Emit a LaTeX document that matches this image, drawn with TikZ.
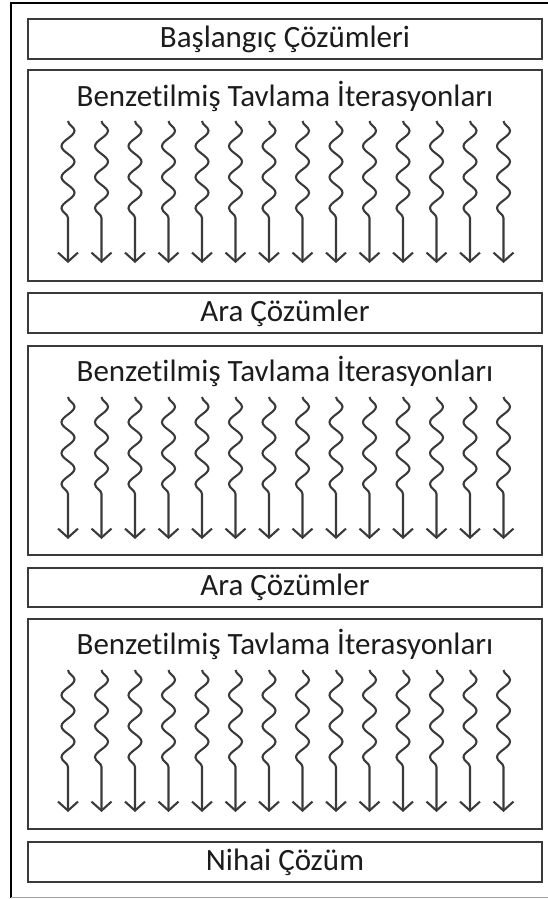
\documentclass[tikz,border=0pt]{standalone}
\usepackage{fontspec}
\setmainfont{Carlito}[Ligatures = NoCommon]
\usetikzlibrary{positioning, arrows.meta, decorations.pathmorphing}

\definecolor{edgegray}{HTML}{3A3A3A}
\definecolor{framegray}{HTML}{A0A0A0}
\definecolor{textdark}{HTML}{1C1C1C}

\begin{document}
\begin{tikzpicture}[
    x = 1pt, y = -1pt,
    box/.style = {
      rectangle, draw = edgegray, line width = 2pt,
      minimum width = 514pt, inner sep = 0pt,
      font = \fontsize{31}{35}\selectfont, text = textdark
    },
    title/.style = {
      inner sep = 0pt,
      font = \fontsize{31}{35}\selectfont, text = textdark
    },
    wave/.style = {
      draw = edgegray, line width = 2.1pt,
      decorate, decoration = {snake, amplitude = 6.5pt,
        segment length = 31pt, post length = 32pt},
      -{Straight Barb[length=9pt, width=20pt, line width=2.1pt]}
    }
  ]

  \useasboundingbox (0,0) rectangle (547,899);

  % ---- Dis cerceve ----
  \draw[line width = 1.5pt] (560,3) -- (11,3) -- (11,897.5);
  \draw[framegray, line width = 1.2pt] (11,897.5) -- (560,897.5);

  % ---- Cozum kutulari ----
  \node[box, minimum height = 40pt] (init) at (285,39)    {Başlangıç Çözümleri};
  \node[box, minimum height = 40pt] (mid1) at (285,313)   {Ara Çözümler};
  \node[box, minimum height = 39pt] (mid2) at (285,587.5) {Ara Çözümler};
  \node[box, minimum height = 40pt] (fin)  at (285,862)   {Nihai Çözüm};

  % ---- Tavlama kutulari ----
  \node[box, minimum height = 211pt] (sa1) at (285,175.5) {};
  \node[box, minimum height = 209pt] (sa2) at (285,450.5) {};
  \node[box, minimum height = 210pt] (sa3) at (285,724)   {};

  \node[title] (sa1t) at (285,96)  {Benzetilmiş Tavlama İterasyonları};
  \node[title] (sa2t) at (285,371) {Benzetilmiş Tavlama İterasyonları};
  \node[title] (sa3t) at (285,644) {Benzetilmiş Tavlama İterasyonları};

  % ---- Her kutuda 14 dalgali ok ----
  \foreach \b/\t in {sa1/70, sa2/346, sa3/619} {
    \foreach \i in {0,...,13} {
      \pgfmathsetmacro\xx{68 + 33.5*\i}
      \coordinate (\b-s\i) at (\xx, \t + 51);
      \coordinate (\b-e\i) at (\xx, \t + 193);
      \draw[wave] (\b-s\i) -- (\b-e\i);
    }
  }

\end{tikzpicture}
\end{document}
